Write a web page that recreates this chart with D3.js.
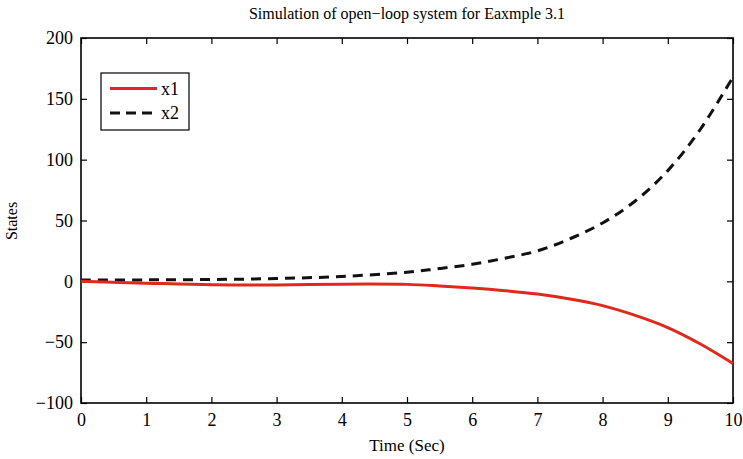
<!DOCTYPE html>
<html>
<head>
<meta charset="utf-8">
<script src="https://cdn.jsdelivr.net/npm/d3@7"></script>
<style>
  body { margin: 0; background: #fff; }
</style>
</head>
<body>
<div class="chart"></div>
<script>

const serif = "'Liberation Serif', 'Times New Roman', Times, serif"

// time samples (sec) and the two state trajectories
const time = [0, 1, 2, 3, 4, 5, 5.5, 6, 6.5, 7, 7.5, 8, 8.5, 9, 9.5, 10]
const x1 = [0, -1.5, -2.8, -3, -2.3, -2.5, -3.8, -5.5, -7.7, -10.5, -14.6, -20, -28, -38, -51.5, -67.5]
const x2 = [1, 1.2, 1.5, 2.3, 4, 7.5, 10.5, 14, 19, 25, 35, 48, 66, 91, 125, 168]

const xTicks = [0, 1, 2, 3, 4, 5, 6, 7, 8, 9, 10]
const yTicks = [-100, -50, 0, 50, 100, 150, 200]

const seriesNames = ["x1", "x2"]

// layout
const margin = ({ top: 38, right: 10, bottom: 56, left: 81 })
const width = 743 - margin.left - margin.right,
    height = 459 - margin.top - margin.bottom;

let svg = d3.select(".chart").append("svg")
    .attr("width", width + margin.left + margin.right)
    .attr("height", height + margin.top + margin.bottom)

let g = svg.append("g")
    .attr("transform", "translate(" + margin.left + "," + margin.top + ")");

let xScale = d3.scaleLinear()
    .domain([0, 10])
    .range([0, width])

let yScale = d3.scaleLinear()
    .domain([-100, 200])
    .range([height, 0])

// axes: ticks point inward on all four sides, like a MATLAB box
let xAxis = d3.axisBottom(xScale).tickValues(xTicks).tickSizeInner(-6).tickSizeOuter(0).tickPadding(10)
let yAxis = d3.axisLeft(yScale).tickValues(yTicks).tickSizeInner(-6).tickSizeOuter(0).tickPadding(8)

g.append("g")
    .attr("class", "axis x-axis")
    .attr("transform", `translate(0, ${height})`)
    .call(xAxis)

g.append("g")
    .attr("class", "axis y-axis")
    .call(yAxis)

g.append("g")
    .attr("transform", `translate(${width}, 0)`)
    .call(d3.axisRight(yScale).tickValues(yTicks).tickSizeInner(-6).tickSizeOuter(0).tickFormat(""))

g.append("g")
    .call(d3.axisTop(xScale).tickValues(xTicks).tickSizeInner(-6).tickSizeOuter(0).tickFormat(""))

g.selectAll(".tick line").attr("stroke", "#000").attr("stroke-width", 1.2)
g.selectAll(".domain").attr("stroke", "none")
g.selectAll(".axis")
    .attr("font-family", serif)
    .attr("font-size", 18)
g.selectAll(".axis text")
    .attr("fill", "#000")
    .text(d => d < 0 ? "\u2212" + Math.abs(d) : d)

// frame
g.append("rect")
    .attr("width", width)
    .attr("height", height)
    .attr("fill", "none")
    .attr("stroke", "#000")
    .attr("stroke-width", 1.6)

// lines
const line = d3.line()
    .x(d => xScale(d[0]))
    .y(d => yScale(d[1]))
    .curve(d3.curveCatmullRom)

g.append("path")
    .datum(time.map((t, i) => [t, x2[i]]))
    .attr("fill", "none")
    .attr("stroke", "#111")
    .attr("stroke-width", 3)
    .attr("stroke-dasharray", "10,7")
    .attr("d", line)

g.append("path")
    .datum(time.map((t, i) => [t, x1[i]]))
    .attr("fill", "none")
    .attr("stroke", "#e0281c")
    .attr("stroke-width", 3)
    .attr("d", line)

// legend
const legend = svg.append("g").attr("transform", "translate(101, 73)")
legend.append("rect")
    .attr("width", 88)
    .attr("height", 57)
    .attr("fill", "#fff")
    .attr("stroke", "#000")
    .attr("stroke-width", 1.2)

const styles = [
    { color: "#e0281c", dash: null },
    { color: "#111", dash: "10,6" }
]
seriesNames.forEach((name, i) => {
    let y = 15.5 + i * 24.5
    legend.append("line")
        .attr("x1", 9).attr("x2", 56)
        .attr("y1", y).attr("y2", y)
        .attr("stroke", styles[i].color)
        .attr("stroke-width", 3)
        .attr("stroke-dasharray", styles[i].dash)
    legend.append("text")
        .attr("x", 60).attr("y", y + 6)
        .attr("font-family", serif)
        .attr("font-size", 18)
        .text(name)
})

// titles
svg.append("text")
    .attr("x", margin.left + width / 2)
    .attr("y", 19)
    .attr("text-anchor", "middle")
    .attr("font-family", serif)
    .attr("font-size", 16)
    .text("Simulation of open\u2212loop system for Eaxmple 3.1")

svg.append("text")
    .attr("x", margin.left + width / 2)
    .attr("y", 451)
    .attr("text-anchor", "middle")
    .attr("font-family", serif)
    .attr("font-size", 17)
    .text("Time (Sec)")

svg.append("text")
    .attr("transform", `translate(17, 221) rotate(-90)`)
    .attr("text-anchor", "middle")
    .attr("font-family", serif)
    .attr("font-size", 16)
    .text("States")

</script>
</body>
</html>
